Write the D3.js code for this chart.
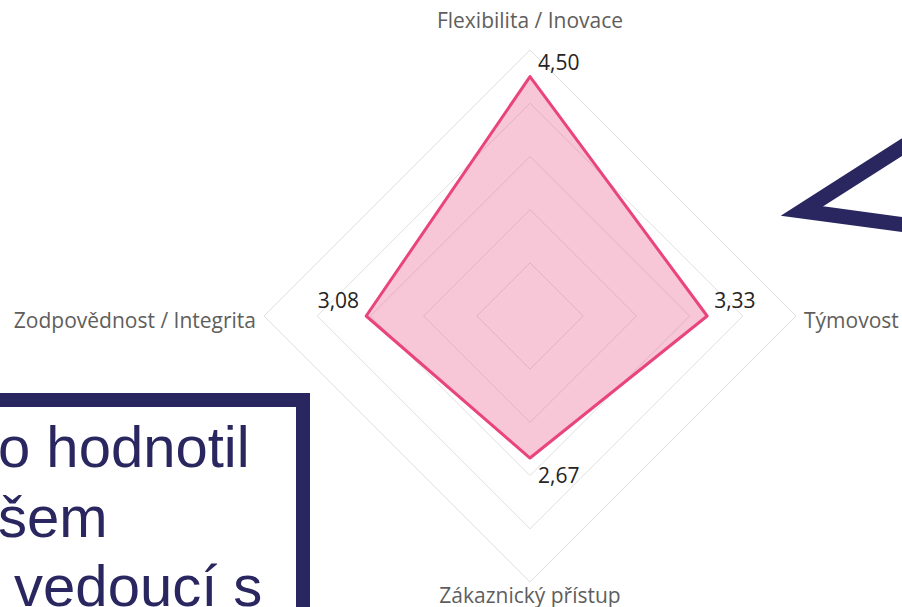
<!DOCTYPE html>
<html>
<head>
<meta charset="utf-8">
<script src="https://cdn.jsdelivr.net/npm/d3@7"></script>
<style>
  body { margin: 0; background: #fff; }
  svg { display: block; }
</style>
</head>
<body>
<div id="chart"></div>
<script>
// data
const categories = ["Flexibilita / Inovace", "Týmovost", "Zákaznický přístup", "Zodpovědnost / Integrita"];
const values = [4.50, 3.33, 2.67, 3.08];
const ringLevels = [1, 2, 3, 4, 5];
const noteLines = ["o hodnotil", "šem", " vedoucí s"];

const width = 902, height = 607;
const cx = 530, cy = 316;

const svg = d3.select("#chart").append("svg")
    .attr("width", width)
    .attr("height", height);

const r = d3.scaleLinear().domain([0, 5]).range([0, 266]);
const angle = d3.scaleBand().domain(categories).range([0, 2 * Math.PI]);

const csFormat = d3.formatLocale({ decimal: ",", thousands: " ", grouping: [3], currency: ["", " Kč"] }).format(".2f");

function point(cat, v) {
    let a = angle(cat);
    return [cx + r(v) * Math.sin(a), cy - r(v) * Math.cos(a)];
}

let g = svg.append("g");

// grid rings
g.selectAll(".ring")
    .data(ringLevels)
    .enter().append("polygon")
    .attr("class", "ring")
    .attr("points", d => categories.map(c => point(c, d).join(",")).join(" "))
    .attr("fill", "none")
    .attr("stroke", "#e0e0e0")
    .attr("stroke-width", 1);

// data polygon
g.append("polygon")
    .attr("points", categories.map((c, i) => point(c, values[i]).join(",")).join(" "))
    .attr("fill", "#e9457b")
    .attr("fill-opacity", 0.3)
    .attr("stroke", "#e9457b")
    .attr("stroke-width", 3)
    .attr("stroke-linejoin", "round");

// value labels (offset per direction)
const valueOffsets = [
    { dx: 8, dy: -7, anchor: "start" },
    { dx: 7, dy: -8, anchor: "start" },
    { dx: 8, dy: 25, anchor: "start" },
    { dx: -7, dy: -8, anchor: "end" }
];

g.selectAll(".value")
    .data(categories)
    .enter().append("text")
    .attr("class", "value")
    .attr("x", (d, i) => point(d, values[i])[0] + valueOffsets[i].dx)
    .attr("y", (d, i) => point(d, values[i])[1] + valueOffsets[i].dy)
    .attr("text-anchor", (d, i) => valueOffsets[i].anchor)
    .style("font-family", "'Open Sans', sans-serif")
    .style("font-size", "21px")
    .style("fill", "#252423")
    .text((d, i) => csFormat(values[i]));

// axis labels
const labelOffsets = [
    { dx: 0, dy: -22, anchor: "middle" },
    { dx: 8, dy: 12, anchor: "start" },
    { dx: 0, dy: 21, anchor: "middle" },
    { dx: -8, dy: 12, anchor: "end" }
];

g.selectAll(".axis-label")
    .data(categories)
    .enter().append("text")
    .attr("class", "axis-label")
    .attr("x", (d, i) => point(d, 5)[0] + labelOffsets[i].dx)
    .attr("y", (d, i) => point(d, 5)[1] + labelOffsets[i].dy)
    .attr("text-anchor", (d, i) => labelOffsets[i].anchor)
    .style("font-family", "'Open Sans', sans-serif")
    .style("font-size", "21px")
    .style("fill", "#605e5c")
    .text(d => d);

// overlay: callout box bottom-left
const navy = "#2a2760";
svg.append("rect")
    .attr("x", -40)
    .attr("y", 400)
    .attr("width", 343)
    .attr("height", 260)
    .attr("fill", "#fff")
    .attr("stroke", navy)
    .attr("stroke-width", 14);

svg.selectAll(".note")
    .data(noteLines)
    .enter().append("text")
    .attr("class", "note")
    .attr("x", -2)
    .attr("y", (d, i) => 467 + i * 69.5)
    .attr("xml:space", "preserve")
    .style("white-space", "pre")
    .style("font-family", "'Liberation Sans', Arial, sans-serif")
    .style("font-size", "58px")
    .style("fill", navy)
    .text(d => d);

// overlay: arrow shape top-right
svg.append("polyline")
    .attr("points", "935,126 802,211 935,229")
    .attr("fill", "none")
    .attr("stroke", navy)
    .attr("stroke-width", 15)
    .attr("stroke-linejoin", "miter")
    .attr("stroke-miterlimit", 10);
</script>
</body>
</html>
